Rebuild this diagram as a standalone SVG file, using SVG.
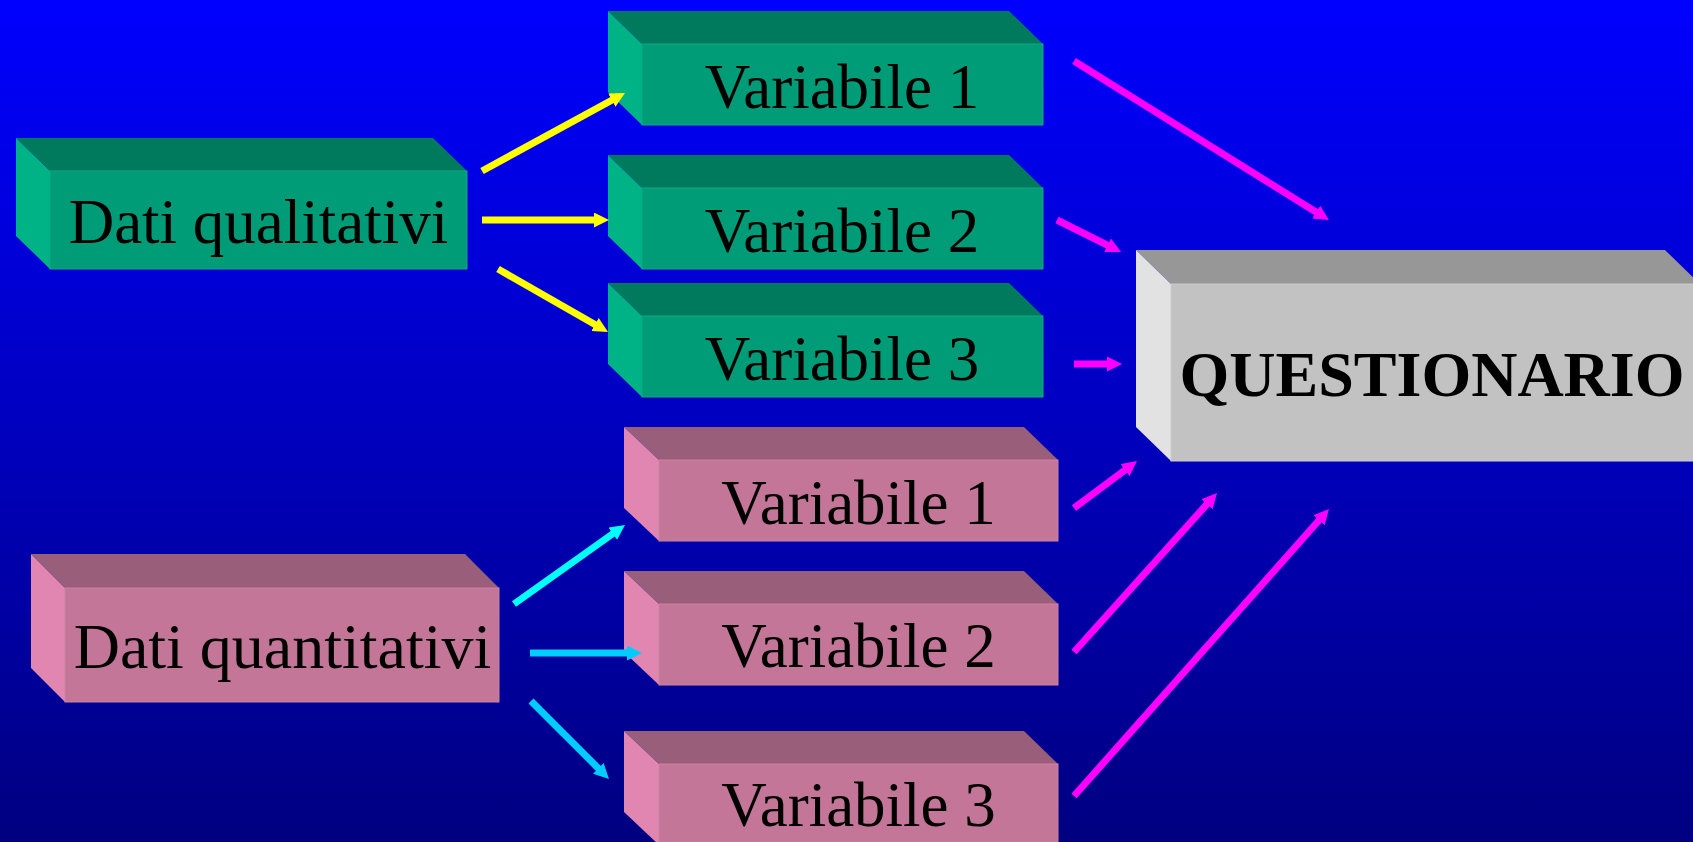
<svg xmlns="http://www.w3.org/2000/svg" width="1693" height="842" viewBox="0 0 1693 842">
<defs>
<linearGradient id="bg" x1="0" y1="0" x2="0" y2="1">
<stop offset="0" stop-color="#0000FF"/>
<stop offset="1" stop-color="#000080"/>
</linearGradient>
<marker id="hy" markerUnits="userSpaceOnUse" markerWidth="16" markerHeight="16" refX="3" refY="7.5" orient="auto"><path d="M0,0 L15,7.5 L0,15 z" fill="#FFFF00"/></marker>
<marker id="hc" markerUnits="userSpaceOnUse" markerWidth="16" markerHeight="16" refX="3" refY="7.5" orient="auto"><path d="M0,0 L15,7.5 L0,15 z" fill="#00FFFF"/></marker>
<marker id="hb" markerUnits="userSpaceOnUse" markerWidth="16" markerHeight="16" refX="3" refY="7.5" orient="auto"><path d="M0,0 L15,7.5 L0,15 z" fill="#00CCFF"/></marker>
<marker id="hm" markerUnits="userSpaceOnUse" markerWidth="16" markerHeight="16" refX="3" refY="7.5" orient="auto"><path d="M0,0 L15,7.5 L0,15 z" fill="#FF00FF"/></marker>
</defs>
<style>
.gf{fill:#009B77;stroke:#10A884;stroke-width:1}
.gt{fill:#007A5D}
.gl{fill:#00B386}
.pf{fill:#C47698;stroke:#CC82A2;stroke-width:1}
.pt{fill:#985E7A}
.pl{fill:#E086B0}
.qf{fill:#C2C2C2;stroke:#CCCCCC;stroke-width:1}
.qt{fill:#979797}
.ql{fill:#E2E2E2}
.lbl{font-family:"Liberation Serif","Times New Roman",serif;font-size:63px;fill:#000;text-anchor:middle}
.bold{font-weight:bold;font-size:64px}
.ar{fill:none;stroke-width:7;stroke-linecap:butt}
.y{stroke:#FFFF00;marker-end:url(#hy)}
.c{stroke:#00FFFF;marker-end:url(#hc)}
.b{stroke:#00CCFF;marker-end:url(#hb)}
.m{stroke:#FF00FF;marker-end:url(#hm)}
</style>
<rect x="0" y="0" width="1693" height="842" fill="url(#bg)"/>

<g id="dati-qualitativi">
<polygon class="gt" points="16,138 433,138 467,171 50,171"/>
<polygon class="gl" points="16,138 50,171 50,269 16,236"/>
<rect class="gf" x="50" y="171" width="417" height="98"/>
<text class="lbl" x="258.5" y="243">Dati qualitativi</text>
</g>

<g id="qual-var1">
<polygon class="gt" points="608,11 1009,11 1043,44 642,44"/>
<polygon class="gl" points="608,11 642,44 642,125 608,92"/>
<rect class="gf" x="642" y="44" width="401" height="81"/>
<text class="lbl" x="842" y="108">Variabile 1</text>
</g>

<g id="qual-var2">
<polygon class="gt" points="608,155 1009,155 1043,188 642,188"/>
<polygon class="gl" points="608,155 642,188 642,269 608,236"/>
<rect class="gf" x="642" y="188" width="401" height="81"/>
<text class="lbl" x="842" y="252">Variabile 2</text>
</g>

<g id="qual-var3">
<polygon class="gt" points="608,283 1009,283 1043,316 642,316"/>
<polygon class="gl" points="608,283 642,316 642,397 608,364"/>
<rect class="gf" x="642" y="316" width="401" height="81"/>
<text class="lbl" x="842" y="380">Variabile 3</text>
</g>

<g id="dati-quantitativi">
<polygon class="pt" points="31,554 465,554 499,588 65,588"/>
<polygon class="pl" points="31,554 65,588 65,702 31,668"/>
<rect class="pf" x="65" y="588" width="434" height="114"/>
<text class="lbl" x="282.5" y="668" style="font-size:64px">Dati quantitativi</text>
</g>

<g id="quant-var1">
<polygon class="pt" points="624,427 1024,427 1058,460 659,460"/>
<polygon class="pl" points="624,427 659,460 659,541 624,508"/>
<rect class="pf" x="659" y="460" width="399" height="81"/>
<text class="lbl" x="858.5" y="524">Variabile 1</text>
</g>

<g id="quant-var2">
<polygon class="pt" points="624,571 1024,571 1058,604 659,604"/>
<polygon class="pl" points="624,571 659,604 659,685 624,652"/>
<rect class="pf" x="659" y="604" width="399" height="81"/>
<text class="lbl" x="858.5" y="667">Variabile 2</text>
</g>

<g id="quant-var3">
<polygon class="pt" points="624,731 1024,731 1058,764 659,764"/>
<polygon class="pl" points="624,731 659,764 659,845 624,812"/>
<rect class="pf" x="659" y="764" width="399" height="81"/>
<text class="lbl" x="858.5" y="826">Variabile 3</text>
</g>

<g id="questionario">
<polygon class="qt" points="1136,250 1665,250 1700,284 1171,284"/>
<polygon class="ql" points="1136,250 1171,284 1171,461 1136,427"/>
<rect class="qf" x="1171" y="284" width="530" height="177"/>
<text class="lbl bold" x="1432" y="396">QUESTIONARIO</text>
</g>

<g id="connectors">
<path class="ar y" d="M482,171 L614.5,98.7"/>
<path class="ar y" d="M482,220 L597,220"/>
<path class="ar y" d="M498,269 L597.6,326"/>
<path class="ar c" d="M514,604 L615.2,532"/>
<path class="ar b" d="M530,653 L630,653"/>
<path class="ar b" d="M531,701 L600.5,770.5"/>
<path class="ar m" d="M1074,61 L1318.8,213.7"/>
<path class="ar m" d="M1057,220 L1110.3,246.6"/>
<path class="ar m" d="M1074,364 L1110,364"/>
<path class="ar m" d="M1074,508 L1127.4,468.2"/>
<path class="ar m" d="M1074,652 L1209,501.9"/>
<path class="ar m" d="M1074,796 L1321,518"/>
</g>
</svg>
